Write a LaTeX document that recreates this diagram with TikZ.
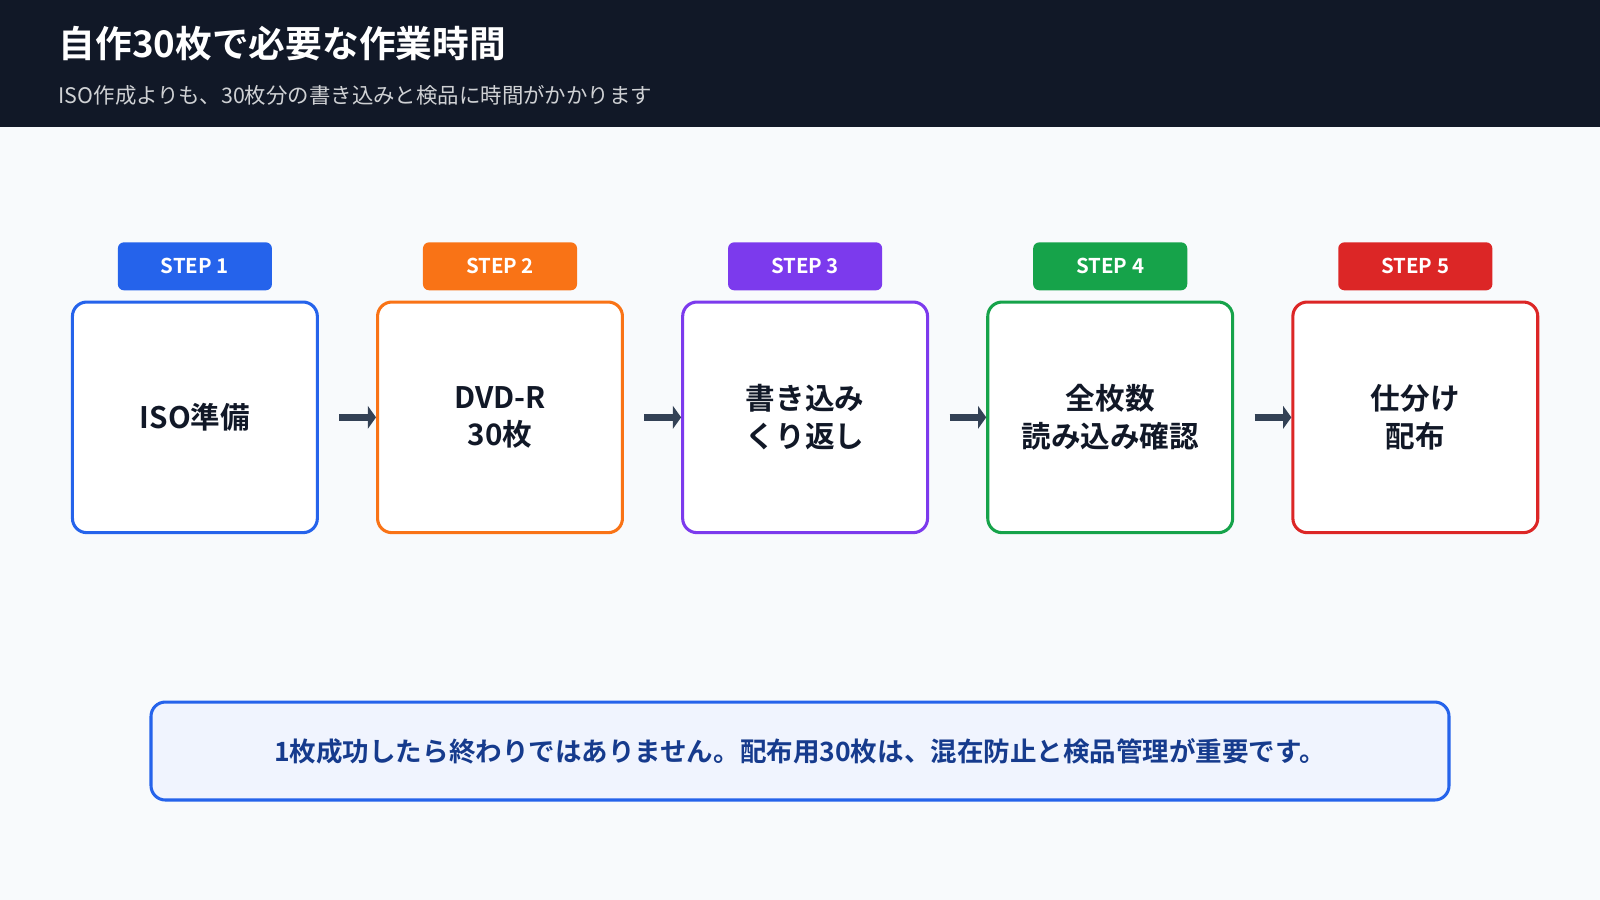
\documentclass[tikz,border=0pt]{standalone}
\usepackage{fontspec}
\setmainfont{Noto Sans CJK JP}
\newfontfamily\jpb{Noto Sans CJK JP Bold}
\usetikzlibrary{arrows.meta}
\definecolor{bg}{HTML}{F8FAFC}\definecolor{hdr}{HTML}{111827}
\definecolor{cA}{HTML}{2563EB}\definecolor{cB}{HTML}{F97316}\definecolor{cC}{HTML}{7C3AED}
\definecolor{cD}{HTML}{16A34A}\definecolor{cE}{HTML}{DC2626}\definecolor{arr}{HTML}{334155}
\begin{document}
\begin{tikzpicture}[x=1pt,y=-1pt,
 box/.style={draw=#1,line width=3pt,fill=white,rounded corners=14pt,minimum width=240pt,minimum height=226pt,align=center,font=\jpb\fontsize{29}{37}\selectfont,text=hdr},
 tag/.style={fill=#1,rounded corners=6pt,minimum width=151pt,minimum height=47pt,text=white,font=\jpb\fontsize{20}{24}\selectfont},
 ar/.style={draw=arr,line width=7pt,-{Triangle[length=8pt,width=22pt]}}]
\useasboundingbox (0,0) rectangle (1568,882);
\fill[bg] (0,0) rectangle (1568,882);
\fill[hdr] (0,0) rectangle (1568,124);
\node[anchor=west,text=white,font=\jpb\fontsize{36}{40}\selectfont] (t) at (54,43) {自作30枚で必要な作業時間};
\node[anchor=west,text=white!80!hdr,font=\fontsize{21}{24}\selectfont] (s) at (54,93) {ISO作成よりも、30枚分の書き込みと検品に時間がかかります};
\foreach \i/\c/\t/\s in {0/cA/{ISO準備}/1,1/cB/{DVD-R\\30枚}/2,2/cC/{書き込み\\くり返し}/3,3/cD/{全枚数\\読み込み確認}/4,4/cE/{仕分け\\配布}/5}{
 \node[box=\c] (b\s) at ({191+299*\i},409) {\t};
 \node[tag=\c] (g\s) at ({191+299*\i},261) {STEP \s};
}
\foreach \a/\b in {1/2,2/3,3/4,4/5}{
 \coordinate (p\a) at ([xshift=20pt]b\a.east);
 \draw[ar] (p\a) -- (b\b.west);
}
\node[draw=cA,line width=3pt,fill=cA!7,rounded corners=14pt,minimum width=1272pt,minimum height=96pt,text=cA!60!black,font=\jpb\fontsize{26}{30}\selectfont] (n) at (784,736) {1枚成功したら終わりではありません。配布用30枚は、混在防止と検品管理が重要です。};
\end{tikzpicture}
\end{document}
